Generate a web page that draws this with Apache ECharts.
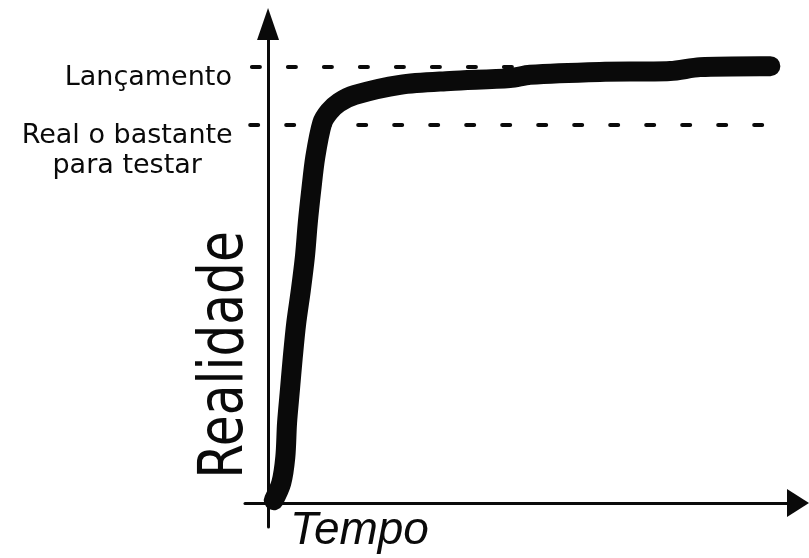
<!DOCTYPE html>
<html>
<head>
<meta charset="utf-8">
<style>
  html, body { margin: 0; padding: 0; background: #fff; }
  #chart { width: 809px; height: 558px; }
</style>
<script src="https://cdn.jsdelivr.net/npm/echarts@6/dist/echarts.min.js"></script>
</head>
<body>
<div id="chart"></div>
<script>
// Reality of the product over time: a steep climb, then a long flat approach to launch.
const timeValues = [1.0, 2.3, 3.0, 3.3, 3.8, 4.3, 4.9, 5.7, 6.4, 6.9, 7.5, 8.2, 9.4, 10.6, 12.3, 15.1, 22.9, 31.6, 42.0, 45.5, 57.6, 69.8, 75.0, 85.4, 87.2];
const realityValues = [0.6, 4.2, 9.6, 16.7, 23.6, 30.5, 37.6, 44.5, 51.4, 58.5, 65.3, 72.2, 79.3, 81.7, 83.6, 85.2, 87.3, 88.1, 88.7, 89.4, 90.0, 90.2, 91.0, 91.2, 91.2];

// Reference levels drawn as dashed lines
const levelValues = [91.0, 79.0];
const levelLabels = ['{a|Lançamento}', '{a|Real o bastante}\n{b|para testar}'];
const levelStart = [-2.8, -3.1];
const levelEnd = [90.6, 90.3];

const axisTitles = { x: 'Tempo', y: 'Realidade' };

const ink = '#0a0a0a';
const curveData = timeValues.map((t, i) => [t, realityValues[i]]);

const labelFont = { fontFamily: 'DejaVu Sans', fontSize: 27, color: ink };
const labelRich = {
  a: Object.assign({ lineHeight: 22 }, labelFont),
  b: Object.assign({ lineHeight: 38 }, labelFont)
};

const chart = echarts.init(document.getElementById('chart'), null, { renderer: 'canvas' });

const levelLines = levelValues.map((v, i) => {
  const label = {
    show: true, position: 'start', formatter: levelLabels[i],
    distance: i === 0 ? 20 : 123,
    align: i === 0 ? 'right' : 'center',
    verticalAlign: 'top',
    rich: labelRich
  };
  return [
    { coord: [levelStart[i], v], label: label },
    { coord: [levelEnd[i], v] }
  ];
});

chart.setOption({
  backgroundColor: '#ffffff',
  animation: false,
  grid: { left: 245, right: 11, top: 24, bottom: 31, containLabel: false },
  xAxis: {
    type: 'value', min: -4, max: 92,
    axisLine: { show: true, onZero: true, symbol: ['none', 'triangle'], symbolSize: [28, 22],
      lineStyle: { color: ink, width: 3 } },
    axisTick: { show: false }, axisLabel: { show: false }, splitLine: { show: false }
  },
  yAxis: {
    type: 'value', min: -5, max: 100,
    axisLine: { show: true, onZero: true, symbol: ['none', 'triangle'], symbolSize: [22, 32],
      lineStyle: { color: ink, width: 3 } },
    axisTick: { show: false }, axisLabel: { show: false }, splitLine: { show: false }
  },
  series: [{
    type: 'line',
    data: curveData,
    smooth: 0.3,
    showSymbol: false,
    clip: false,
    lineStyle: { color: ink, width: 20, cap: 'round', join: 'round' },
    z: 5,
    markLine: {
      silent: true,
      symbol: ['none', 'none'],
      lineStyle: { color: ink, width: 4, type: [8, 28], cap: 'round' },
      data: levelLines,
      z: 3
    }
  }],
  graphic: [
    {
      type: 'text', x: 226, y: 355, rotation: Math.PI / 2, scaleX: 0.81,
      style: { text: axisTitles.y, fill: ink, align: 'center', verticalAlign: 'middle',
        font: '62px "DejaVu Sans", sans-serif' }
    },
    {
      type: 'text', x: 290, y: 531,
      style: { text: axisTitles.x, fill: ink, align: 'left', verticalAlign: 'middle',
        font: 'italic 46px "Liberation Sans", sans-serif' }
    }
  ]
});
</script>
</body>
</html>
